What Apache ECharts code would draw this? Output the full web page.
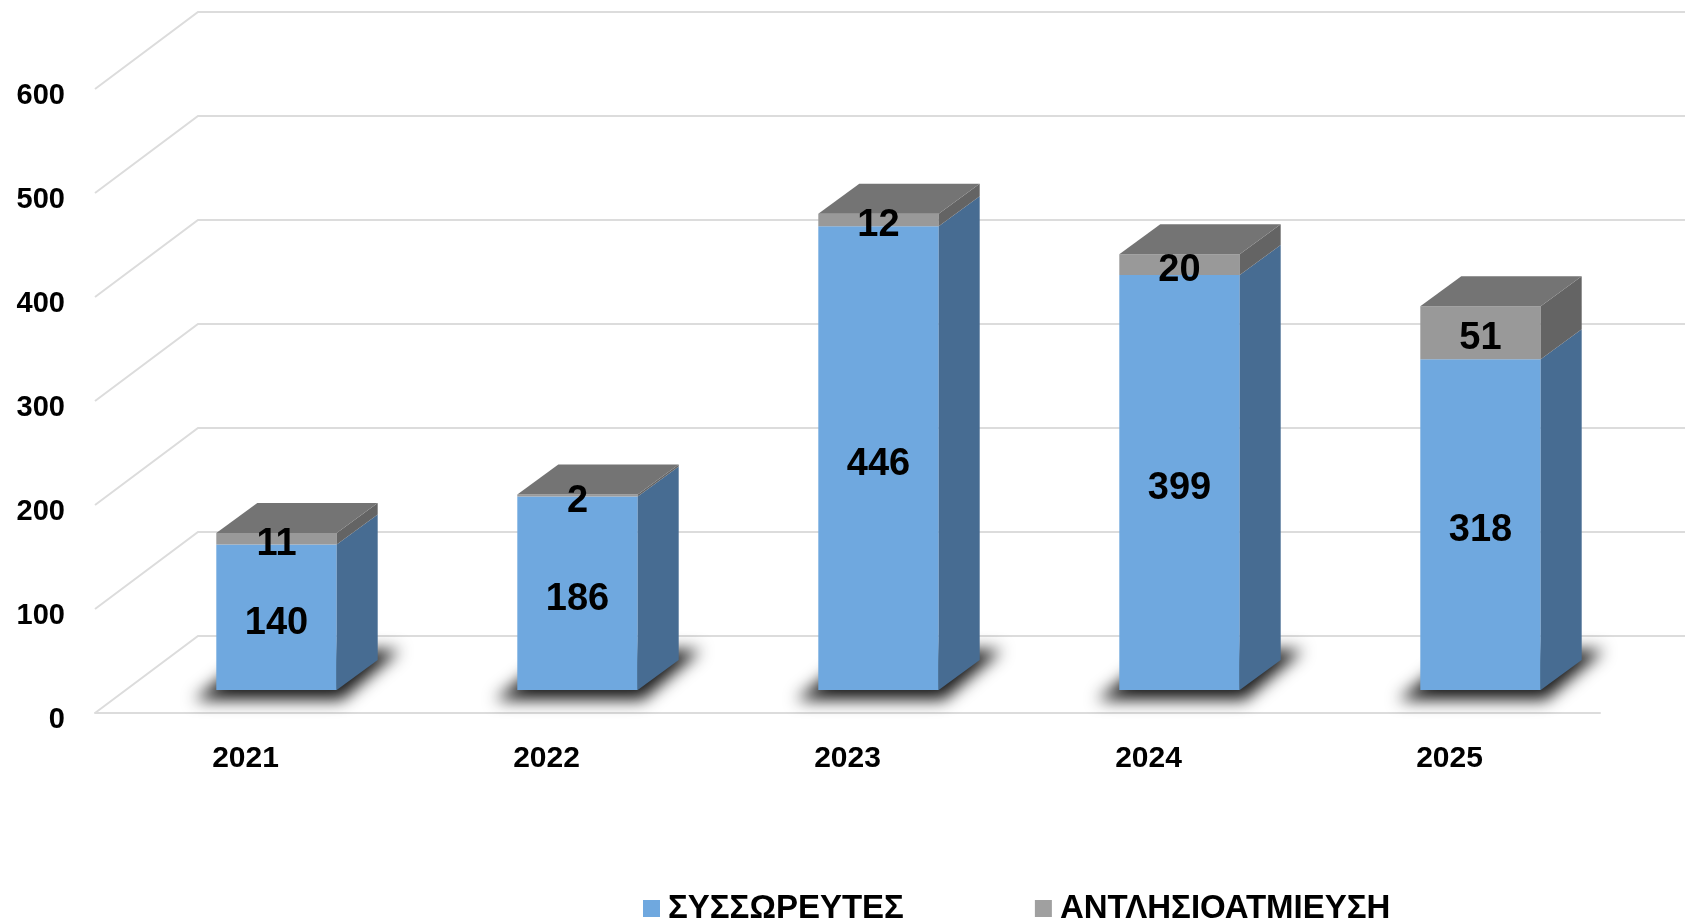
<!DOCTYPE html>
<html>
<head>
<meta charset="utf-8">
<script src="https://cdn.jsdelivr.net/npm/echarts@6/dist/echarts.min.js"></script>
<style>
html,body{margin:0;padding:0;background:#fff;}
#main{width:1685px;height:922px;}
</style>
</head>
<body>
<div id="main"></div>
<script>
var years = ['2021', '2022', '2023', '2024', '2025'];
var storage = [140, 186, 446, 399, 318];   // ΣΥΣΣΩΡΕΥΤΕΣ
var pumped = [11, 2, 12, 20, 51];          // ΑΝΤΛΗΣΙΟΑΤΜΙΕΥΣΗ
var yTicks = [0, 100, 200, 300, 400, 500, 600];

// fake 3d depth (pixels)
var WALL_DX = 103, WALL_DY = -77;   // back wall offset
var FDX = 31, FDY = -23;            // bar front face offset from floor edge
var BDX = 41, BDY = -30;            // bar depth

var FONT = '"Liberation Sans", Arial, sans-serif';

function renderGrid(params, api) {
	var cs = params.coordSys;
	var y = api.coord([0, api.value(1)])[1];
	return {
		type: 'polyline',
		silent: true,
		shape: { points: [[cs.x, y], [cs.x + WALL_DX, y + WALL_DY], [cs.x + cs.width + 200, y + WALL_DY]] },
		style: { stroke: '#dcdcdc', lineWidth: 2, fill: null }
	};
}

function barGeom(api, v0, v1) {
	var i = api.value(0);
	var band = api.size([1, 0])[0];
	var w = band * 0.4;
	var pb = api.coord([i, v0]);
	var pt = api.coord([i, v1]);
	var x = pb[0] + FDX - w / 2;
	return { x: x, w: w, yb: pb[1] + FDY, yt: pt[1] + FDY };
}

function boxParts(g, front, side, top) {
	var x = g.x, w = g.w, yb = g.yb, yt = g.yt;
	var parts = [
		{ type: 'rect', shape: { x: x, y: yt, width: w, height: yb - yt }, style: { fill: front } },
		{ type: 'polygon', shape: { points: [[x + w, yb], [x + w + BDX, yb + BDY], [x + w + BDX, yt + BDY], [x + w, yt]] }, style: { fill: side } }
	];
	if (top) {
		parts.push({ type: 'polygon', shape: { points: [[x, yt], [x + w, yt], [x + w + BDX, yt + BDY], [x + BDX, yt + BDY]] }, style: { fill: top } });
	}
	return parts;
}

function labelPart(g, v) {
	return {
		type: 'text',
		x: g.x + g.w / 2,
		y: (g.yb + g.yt) / 2 + 6,
		style: { text: String(v), fill: '#000', fontSize: 38, fontWeight: 'bold', fontFamily: FONT, align: 'center', verticalAlign: 'middle' }
	};
}

function renderStorage(params, api) {
	var g = barGeom(api, 0, api.value(1));
	var yb = g.yb, x = g.x, w = g.w;
	var off = 4000;
	// blurred floor shadow, shape kept off screen so only its shadow shows
	var shadow = {
		type: 'polygon',
		silent: true,
		shape: { points: [[x - 22 - off, yb + 10], [x + w + 5 - off, yb + 10], [x + w + BDX + 22 - off, yb + BDY - 10], [x + BDX - off, yb + BDY - 10]] },
		style: { fill: '#000', shadowBlur: 16, shadowColor: 'rgba(0,0,0,0.9)', shadowOffsetX: off, shadowOffsetY: 0 }
	};
	var children = [shadow].concat(boxParts(g, '#6fa8df', '#476c92', null));
	children.push(labelPart(g, api.value(1)));
	return { type: 'group', children: children };
}

function renderPumped(params, api) {
	var g = barGeom(api, api.value(1), api.value(2));
	var children = boxParts(g, '#999999', '#646464', '#747474');
	children.push(labelPart(g, api.value(3)));
	return { type: 'group', children: children };
}

var gridData = yTicks.map(function (v) { return [0, v]; });
var storageData = storage.map(function (v, i) { return [i, v]; });
var pumpedData = pumped.map(function (v, i) { return [i, storage[i], storage[i] + v, v]; });

var myChart = echarts.init(document.getElementById('main'));
var option = {
	backgroundColor: '#fff',
	animation: false,
	grid: { left: 95, right: 85, top: 89, bottom: 209 },
	legend: {
		left: 638,
		top: 887,
		icon: 'rect',
		itemWidth: 17,
		itemHeight: 17,
		itemGap: 131,
		textStyle: { fontSize: 33, fontWeight: 'bold', color: '#000', fontFamily: FONT, padding: [0, 0, 0, 3] },
		data: ['ΣΥΣΣΩΡΕΥΤΕΣ', 'ΑΝΤΛΗΣΙΟΑΤΜΙΕΥΣΗ']
	},
	xAxis: {
		type: 'category',
		data: years,
		axisLine: { show: true, lineStyle: { color: '#dcdcdc', width: 2 } },
		axisTick: { show: false },
		axisLabel: { margin: 31, fontSize: 30, fontWeight: 'bold', color: '#000', fontFamily: FONT }
	},
	yAxis: {
		type: 'value',
		min: 0,
		max: 600,
		interval: 100,
		axisLine: { show: false },
		axisTick: { show: false },
		splitLine: { show: false },
		axisLabel: { margin: 30, fontSize: 29, fontWeight: 'bold', color: '#000', fontFamily: FONT, verticalAlign: 'top', lineHeight: 14 }
	},
	series: [
		{ type: 'custom', name: 'grid3d', renderItem: renderGrid, data: gridData, z: 1, silent: true, encode: { x: 0, y: 1 } },
		{ type: 'custom', name: 'ΣΥΣΣΩΡΕΥΤΕΣ', renderItem: renderStorage, data: storageData, z: 2, itemStyle: { color: '#6fa8df' }, encode: { x: 0, y: 1 } },
		{ type: 'custom', name: 'ΑΝΤΛΗΣΙΟΑΤΜΙΕΥΣΗ', renderItem: renderPumped, data: pumpedData, z: 3, itemStyle: { color: '#a0a0a0' }, encode: { x: 0, y: [1, 2] } }
	]
};
myChart.setOption(option);
</script>
</body>
</html>
